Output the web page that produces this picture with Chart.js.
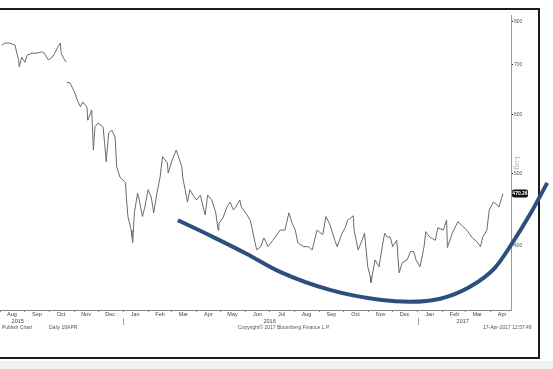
<!DOCTYPE html>
<html>
<head>
<meta charset="utf-8">
<script src="https://cdn.jsdelivr.net/npm/chart.js@4.4.1/dist/chart.umd.min.js"></script>
<style>
    html, body { margin: 0; padding: 0; background: #fff; }
    #contenedor { position: relative; width: 553px; height: 369px; overflow: hidden; }
    #marco { position: absolute; left: -4px; top: 8px; width: 544px; height: 351px; border: 2px solid #1c1c1c; box-sizing: border-box; }
    #franja { position: absolute; left: 0; top: 361px; width: 553px; height: 8px; background: #f2f2f2; }
    #grafico { position: absolute; left: 0; top: 0; }
</style>
</head>
<body>
<div id="contenedor">
    <div id="marco"></div>
    <div id="franja"></div>
    <canvas id="grafico" width="553" height="369"></canvas>
</div>
<script>
// Precio diario (escala log). null = hueco de cotización
const fechas = [
    '2015-08-03','2015-08-07','2015-08-13','2015-08-20','2015-08-21','2015-08-24','2015-08-25','2015-08-28',
    '2015-09-01','2015-09-04','2015-09-10','2015-09-16','2015-09-22','2015-09-25','2015-09-30',
    '2015-10-05','2015-10-08','2015-10-12','2015-10-15','2015-10-16','2015-10-19','2015-10-22','2015-10-22','2015-10-23','2015-10-27','2015-10-30',
    '2015-11-02','2015-11-05','2015-11-09','2015-11-11','2015-11-12','2015-11-17','2015-11-18','2015-11-23','2015-11-25','2015-11-27',
    '2015-12-01','2015-12-07','2015-12-09','2015-12-11','2015-12-14','2015-12-18','2015-12-22','2015-12-24','2015-12-28',
    '2016-01-04','2016-01-05','2016-01-07','2016-01-11','2016-01-12','2016-01-13','2016-01-15','2016-01-19','2016-01-21','2016-01-25','2016-01-28',
    '2016-02-01','2016-02-05','2016-02-08','2016-02-12','2016-02-16','2016-02-18','2016-02-19','2016-02-25','2016-02-26',
    '2016-03-02','2016-03-07','2016-03-09','2016-03-14','2016-03-15','2016-03-18','2016-03-21','2016-03-24','2016-03-28',
    '2016-04-01','2016-04-06','2016-04-08','2016-04-12','2016-04-15','2016-04-20','2016-04-25','2016-04-28','2016-04-29',
    '2016-05-04','2016-05-09','2016-05-13','2016-05-17','2016-05-20','2016-05-25','2016-05-27',
    '2016-06-03','2016-06-07','2016-06-13','2016-06-15','2016-06-20','2016-06-24','2016-06-29',
    '2016-07-05','2016-07-08','2016-07-14','2016-07-20','2016-07-25','2016-07-29',
    '2016-08-02','2016-08-05','2016-08-12','2016-08-18','2016-08-23','2016-08-29',
    '2016-09-05','2016-09-09','2016-09-14','2016-09-20','2016-09-23','2016-09-29',
    '2016-10-03','2016-10-06','2016-10-13','2016-10-14','2016-10-19','2016-10-24','2016-10-27','2016-10-31',
    '2016-11-03','2016-11-04','2016-11-09','2016-11-14','2016-11-18','2016-11-21','2016-11-24','2016-11-28',
    '2016-12-01','2016-12-06','2016-12-09','2016-12-13','2016-12-19','2016-12-23','2016-12-27','2016-12-30',
    '2017-01-04','2017-01-09','2017-01-11','2017-01-16','2017-01-23','2017-01-26',
    '2017-02-02','2017-02-06','2017-02-07','2017-02-13','2017-02-20','2017-02-24',
    '2017-03-03','2017-03-10','2017-03-16','2017-03-20','2017-03-23','2017-03-28','2017-03-31',
    '2017-04-05','2017-04-10','2017-04-12','2017-04-17'
];
const precios = [
    744, 749, 749, 744, 733, 711, 696, 717,
    706, 722, 726, 726, 729, 726, 711,
    717, 726, 740, 749, 726, 715, 706, null, 664, 662, 652,
    642, 628, 615, 622, 624, 615, 590, 609, 538, 578,
    585, 578, 550, 519, 567, 572, 560, 511, 495,
    486, 465, 438, 420, 411, 404, 443, 471, 461, 438, 451,
    476, 465, 443, 471, 495, 517, 527, 517, 501,
    522, 538, 530, 511, 495, 476, 458, 476, 468,
    461, 468, 458, 440, 468, 461, 444, 420, 429,
    436, 451, 458, 447, 451, 461, 451,
    440, 433, 404, 395, 399, 410, 399,
    407, 411, 420, 420, 443, 429,
    420, 404, 399, 399, 395, 420,
    414, 438, 427, 407, 399, 416,
    423, 433, 439, 420, 395, 407, 416, 375,
    364, 357, 383, 375, 399, 416, 411, 411,
    399, 407, 368, 380, 383, 393, 393, 383,
    375, 399, 418, 411, 407, 423,
    420, 433, 398, 416, 431, 427,
    420, 410, 405, 399, 411, 420, 447,
    458, 454, 451, 470.26
];

// Curva azul dibujada a mano sobre el gráfico
const curvaFechas = ['2016-03-09','2016-04-22','2016-06-01','2016-07-14','2016-09-14','2016-11-15','2016-12-22','2017-01-29','2017-03-07','2017-04-07','2017-04-28','2017-05-21','2017-06-11'];
const curvaValores = [433, 411, 391, 369, 349, 338.5, 336.4, 339.6, 352.4, 373.7, 402.5, 441.6, 486];

// Ejes
const mesesEtiquetas = ['Aug','Sep','Oct','Nov','Dec','Jan','Feb','Mar','Apr','May','Jun','Jul','Aug','Sep','Oct','Nov','Dec','Jan','Feb','Mar','Apr'];
const aniosEtiquetas = ['2015', '2016', '2017'];
const aniosFechas = ['2015-08-23', '2016-07-01', '2017-02-26'];
const cortesAnio = ['2016-01-01', '2017-01-01'];
const yTicks = [400, 500, 600, 700, 800];
const yMin = 328, yMax = 817;

const DIA = 86400000;
const xMin = Date.UTC(2015, 7, 1);
const xMax = xMin + 635 * DIA;
const inicioMeses = mesesEtiquetas.map((m, i) => Date.UTC(2015, 7 + i, 1));

const fijarRango = s => { s.min = xMin; s.max = xMax; };
const sinPaddingLateral = s => { s.paddingLeft = 0; s.paddingRight = 0; };

const extras = {
    id: 'extras',
    afterDraw(chart) {
        const { ctx, chartArea, scales: { x, y } } = chart;
        ctx.save();
        // separadores de año debajo del eje
        ctx.strokeStyle = '#a0a0a0';
        ctx.lineWidth = 1;
        cortesAnio.forEach(f => {
            const px = Math.round(x.getPixelForValue(Date.parse(f))) + 0.5;
            ctx.beginPath();
            ctx.moveTo(px, chartArea.bottom + 8);
            ctx.lineTo(px, chartArea.bottom + 15);
            ctx.stroke();
        });
        // etiqueta del último precio
        const ultimo = precios[precios.length - 1];
        const py = y.getPixelForValue(ultimo);
        ctx.fillStyle = '#111';
        ctx.beginPath();
        ctx.roundRect(chartArea.right + 1, py - 4, 16, 8, 2);
        ctx.fill();
        ctx.fillStyle = '#fff';
        ctx.font = 'bold 5px "Liberation Sans", Arial';
        ctx.textAlign = 'center';
        ctx.textBaseline = 'middle';
        ctx.fillText(ultimo.toFixed(2), chartArea.right + 9, py + 0.5);
        // textos del pie
        ctx.fillStyle = '#555';
        ctx.font = '5px "Liberation Sans", Arial';
        ctx.textAlign = 'left';
        ctx.fillText('Publish Chart', 2, 328);
        ctx.fillText('Daily 18APR', 49, 328);
        ctx.fillText('Copyright\u00A9 2017 Bloomberg Finance L.P.', 238, 328);
        ctx.fillText('17-Apr-2017 12:57:49', 483, 328);
        // "Log" vertical junto al eje
        ctx.translate(chartArea.right + 6, 163);
        ctx.rotate(Math.PI / 2);
        ctx.fillStyle = '#b0b0b0';
        ctx.font = '8px "Liberation Sans", Arial';
        ctx.textAlign = 'center';
        ctx.fillText('Log', 0, 0);
        ctx.restore();
    }
};

new Chart(document.getElementById('grafico').getContext('2d'), {
    type: 'line',
    data: {
        datasets: [
            {
                data: fechas.map((f, i) => ({ x: Date.parse(f), y: precios[i] })),
                borderColor: '#6b6b6b',
                borderWidth: 1,
                pointRadius: 0,
                tension: 0,
                spanGaps: false
            },
            {
                data: curvaFechas.map((f, i) => ({ x: Date.parse(f), y: curvaValores[i] })),
                borderColor: '#2d4f7e',
                borderWidth: 4,
                pointRadius: 0,
                cubicInterpolationMode: 'monotone',
                clip: false
            }
        ]
    },
    options: {
        responsive: false,
        animation: false,
        layout: { padding: { top: 15, bottom: 43, left: 0, right: 0 } },
        plugins: { legend: { display: false }, tooltip: { enabled: false } },
        scales: {
            x: {
                type: 'linear',
                position: 'bottom',
                bounds: 'data',
                afterDataLimits: fijarRango,
                afterBuildTicks: s => { s.ticks = inicioMeses.map(v => ({ value: v })); },
                afterFit: s => { s.height = 8; sinPaddingLateral(s); },
                grid: { drawOnChartArea: false, drawTicks: true, tickLength: 2, color: '#888' },
                border: { color: '#888', width: 1 },
                ticks: {
                    autoSkip: false, maxRotation: 0, padding: -1, labelOffset: 12,
                    color: '#444', font: { size: 5.5, family: '"Liberation Sans", Arial' },
                    callback: (v, i) => mesesEtiquetas[i]
                }
            },
            anios: {
                type: 'linear',
                position: 'bottom',
                weight: 1,
                bounds: 'data',
                afterDataLimits: fijarRango,
                afterBuildTicks: s => { s.ticks = aniosFechas.map(f => ({ value: Date.parse(f) })); },
                afterFit: s => { s.height = 8; sinPaddingLateral(s); },
                grid: { display: false, drawTicks: false },
                border: { display: false },
                ticks: {
                    autoSkip: false, maxRotation: 0, padding: 0,
                    color: '#444', font: { size: 5.5, family: '"Liberation Sans", Arial' },
                    callback: (v, i) => aniosEtiquetas[i]
                }
            },
            y: {
                type: 'logarithmic',
                position: 'right',
                min: yMin,
                max: yMax,
                afterBuildTicks: s => { s.ticks = yTicks.map(v => ({ value: v })); },
                afterFit: s => { s.width = 42; },
                grid: { drawOnChartArea: false, drawTicks: true, tickLength: 2, color: '#222' },
                border: { color: '#9a9a9a', width: 1 },
                ticks: {
                    padding: 1,
                    color: '#555', font: { size: 5, family: '"Liberation Sans", Arial' },
                    callback: v => String(v)
                }
            }
        }
    },
    plugins: [extras]
});
</script>
</body>
</html>
